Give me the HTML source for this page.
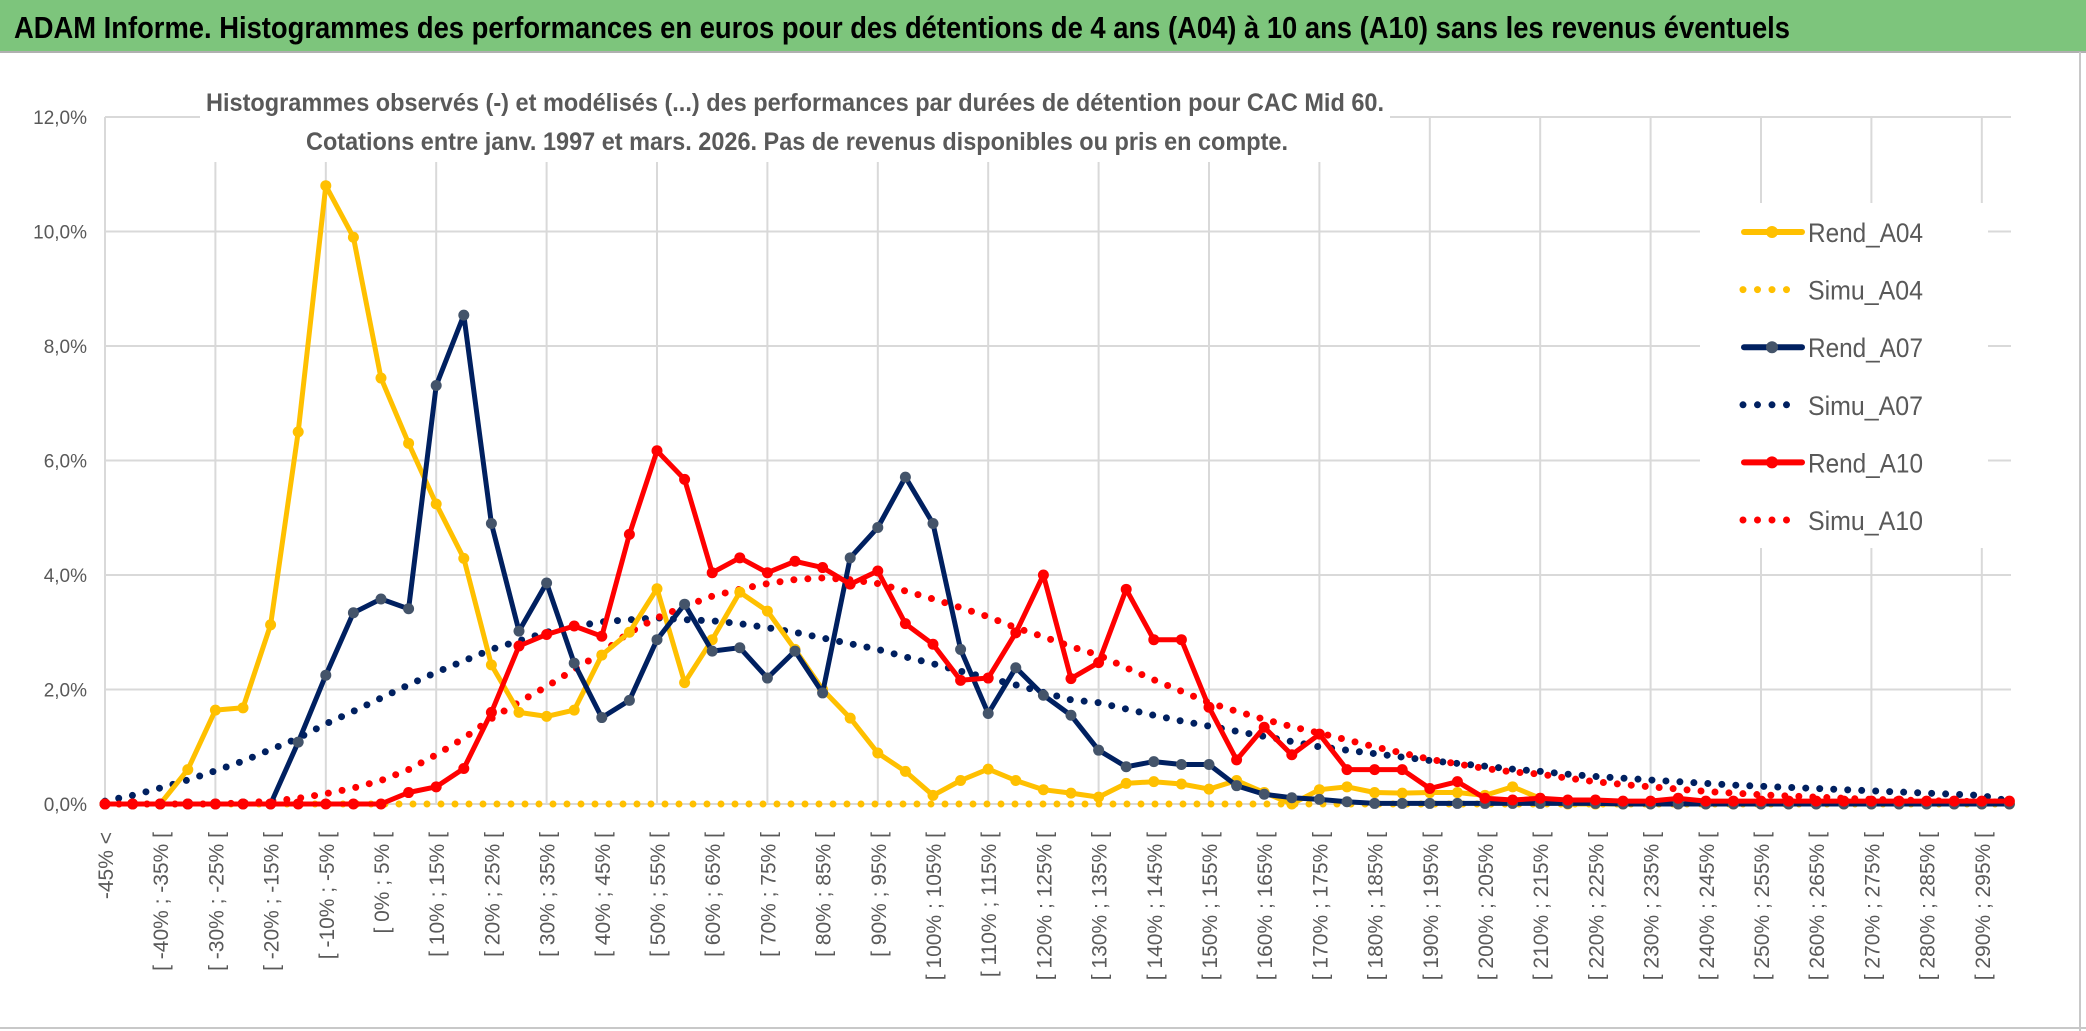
<!DOCTYPE html>
<html><head><meta charset="utf-8"><style>
html,body{margin:0;padding:0;background:#fff;}
svg{display:block;font-family:"Liberation Sans",sans-serif;}
</style></head><body>
<svg id="chart" width="2086" height="1031" viewBox="0 0 2086 1031">
<rect x="0" y="0" width="2086" height="1031" fill="#fff"/>
<rect x="0" y="0" width="2086" height="51" fill="#7dc57c"/>
<line x1="0" y1="52" x2="2086" y2="52" fill="none" stroke="#b0b0b0" stroke-width="2"/>
<text x="14" y="38" font-size="31" font-weight="bold" fill="#000" textLength="1776" lengthAdjust="spacingAndGlyphs">ADAM Informe. Histogrammes des performances en euros pour des détentions de 4 ans (A04) à 10 ans (A10) sans les revenus éventuels</text>
<line x1="2080" y1="52" x2="2080" y2="1031" stroke="#c8c8c8" stroke-width="2"/>
<line x1="0" y1="1028" x2="2086" y2="1028" stroke="#c8c8c8" stroke-width="2"/>
<g id="grid"></g>
<g id="yaxis"></g>
<g id="xaxis"></g>
<rect x="200" y="80" width="1190" height="82" fill="#fff"/>
<text x="206" y="111" font-size="25" font-weight="bold" fill="#595959" textLength="1178" lengthAdjust="spacingAndGlyphs">Histogrammes observés (-) et modélisés (...) des performances par durées de détention pour CAC Mid 60.</text>
<text x="306" y="150" font-size="25" font-weight="bold" fill="#595959" textLength="982" lengthAdjust="spacingAndGlyphs">Cotations entre janv. 1997 et mars. 2026. Pas de revenus disponibles ou pris en compte.</text>
<g id="series"></g>
<rect x="1700" y="203" width="288" height="345" fill="#fff"/>
<g id="legend"></g>
</svg>
<script>
const yTicks = [0,2,4,6,8,10,12];
const yTickLabels = ["0,0%","2,0%","4,0%","6,0%","8,0%","10,0%","12,0%"];
const nCats = 70;
const rendA04 = [0,0,0,0.6,1.64,1.68,3.13,6.5,10.8,9.9,7.44,6.3,5.24,4.29,2.43,1.6,1.53,1.64,2.6,3.0,3.76,2.12,2.87,3.7,3.37,2.7,2.0,1.5,0.89,0.57,0.15,0.41,0.61,0.41,0.25,0.19,0.12,0.36,0.39,0.35,0.26,0.41,0.2,0.0,0.25,0.3,0.2,0.19,0.2,0.2,0.15,0.3,0.1,0,0,0,0,0,0,0,0,0,0,0,0,0,0,0,0,0];
const simuA04 = Array(70).fill(0);
const rendA07 = [0,0,0,0,0,0,0,1.08,2.25,3.34,3.58,3.41,7.31,8.54,4.9,3.02,3.86,2.46,1.51,1.81,2.87,3.49,2.67,2.73,2.2,2.67,1.94,4.3,4.83,5.71,4.9,2.7,1.58,2.38,1.9,1.55,0.94,0.65,0.74,0.69,0.69,0.32,0.17,0.11,0.08,0.04,0.01,0.01,0.01,0.01,0.01,0.01,0.01,0.01,0.01,0,0,0,0,0,0,0,0,0,0,0,0,0,0,0];
const simuA07 = [0.05,0.15,0.28,0.42,0.58,0.75,0.95,1.15,1.4,1.62,1.85,2.08,2.3,2.5,2.7,2.85,3.0,3.1,3.18,3.22,3.25,3.22,3.2,3.15,3.08,3.0,2.9,2.8,2.7,2.57,2.45,2.32,2.2,2.08,1.95,1.82,1.77,1.66,1.55,1.45,1.36,1.27,1.18,1.09,1.0,0.94,0.88,0.82,0.76,0.71,0.66,0.61,0.57,0.52,0.48,0.45,0.42,0.39,0.36,0.33,0.31,0.29,0.27,0.25,0.23,0.21,0.19,0.17,0.15,0.05];
const rendA10 = [0,0,0,0,0,0,0,0,0,0,0,0.2,0.3,0.62,1.6,2.76,2.96,3.11,2.93,4.71,6.17,5.67,4.04,4.3,4.04,4.24,4.13,3.84,4.07,3.15,2.79,2.16,2.2,2.99,4.0,2.19,2.47,3.75,2.87,2.87,1.69,0.77,1.34,0.86,1.22,0.6,0.6,0.6,0.27,0.39,0.1,0.07,0.1,0.07,0.07,0.05,0.05,0.1,0.05,0.05,0.05,0.05,0.05,0.05,0.05,0.05,0.05,0.05,0.05,0.05];
const simuA10 = [0,0,0,0,0,0.02,0.05,0.1,0.18,0.28,0.41,0.6,0.86,1.15,1.49,1.78,2.05,2.35,2.64,3.0,3.25,3.45,3.63,3.75,3.85,3.92,3.95,3.92,3.85,3.72,3.58,3.43,3.27,3.08,2.92,2.75,2.6,2.38,2.17,1.97,1.77,1.62,1.48,1.35,1.24,1.12,1.0,0.89,0.78,0.7,0.62,0.56,0.52,0.45,0.39,0.34,0.3,0.26,0.22,0.19,0.16,0.14,0.12,0.1,0.08,0.07,0.06,0.05,0.04,0.03];
const xLabels = ["-45% <","[ -40% ; -35% [","[ -30% ; -25% [","[ -20% ; -15% [","[ -10% ; -5% [","[ 0% ; 5% [","[ 10% ; 15% [","[ 20% ; 25% [","[ 30% ; 35% [","[ 40% ; 45% [","[ 50% ; 55% [","[ 60% ; 65% [","[ 70% ; 75% [","[ 80% ; 85% [","[ 90% ; 95% [","[ 100% ; 105% [","[ 110% ; 115% [","[ 120% ; 125% [","[ 130% ; 135% [","[ 140% ; 145% [","[ 150% ; 155% [","[ 160% ; 165% [","[ 170% ; 175% [","[ 180% ; 185% [","[ 190% ; 195% [","[ 200% ; 205% [","[ 210% ; 215% [","[ 220% ; 225% [","[ 230% ; 235% [","[ 240% ; 245% [","[ 250% ; 255% [","[ 260% ; 265% [","[ 270% ; 275% [","[ 280% ; 285% [","[ 290% ; 295% ["];
const seriesNames = ["Rend_A04","Simu_A04","Rend_A07","Simu_A07","Rend_A10","Simu_A10"];

const NS="http://www.w3.org/2000/svg";
const X0=105, DX=27.6, Y0=804, YPX=57.25;
function xs(i){return X0+DX*i;}
function ys(v){return Y0-v*YPX;}
function mk(tag,attrs,parent){const e=document.createElementNS(NS,tag);for(const k in attrs)e.setAttribute(k,attrs[k]);parent.appendChild(e);return e;}

const grid=document.getElementById('grid');
yTicks.forEach((t,k)=>{
  const l=mk('line',{x1:xs(0),x2:2011,y1:ys(t),y2:ys(t),stroke:'#d9d9d9','stroke-width':2},grid);
  
  
});
for(let i=0;i<=68;i+=4){
  const l=mk('line',{x1:xs(i),x2:xs(i),y1:ys(12),y2:ys(0),stroke:'#d9d9d9','stroke-width':2},grid);
  
  
}
const yaxis=document.getElementById('yaxis');
yTicks.forEach((t,k)=>{
  const tx=mk('text',{x:87,y:ys(t)+7,'text-anchor':'end','font-size':19,fill:'#595959'},yaxis);
  tx.textContent=yTickLabels[k];
  
  
});
const xaxis=document.getElementById('xaxis');
xLabels.forEach((lab,k)=>{
  const x=xs(k*2)+8;
  const tx=mk('text',{x:0,y:0,transform:`translate(${x},832) rotate(-90)`,'text-anchor':'end','font-size':21,fill:'#595959'},xaxis);
  tx.textContent=lab;
  
  
});

const sg=document.getElementById('series');
function pathOf(arr){return arr.map((v,i)=>(i?'L':'M')+xs(i).toFixed(1)+' '+ys(v).toFixed(1)).join(' ');}
function dotted(arr,color,name){
  const p=mk('path',{d:pathOf(arr),fill:'none',stroke:color,'stroke-width':7,'stroke-linecap':'round','stroke-dasharray':'0 14'},sg);
  
  
}
function solid(arr,color,mcolor,name){
  const p=mk('path',{d:pathOf(arr),fill:'none',stroke:color,'stroke-width':5,'stroke-linejoin':'round'},sg);
  
  
  arr.forEach((v,i)=>{
    const c=mk('circle',{cx:xs(i),cy:ys(v),r:5.5,fill:mcolor},sg);
    
    
  });
}
dotted(simuA04,'#ffc000','simu-a04-line');
dotted(simuA07,'#002060','simu-a07-line');
dotted(simuA10,'#ff0000','simu-a10-line');
solid(rendA04,'#ffc000','#ffc000','rend-a04-line');
solid(rendA07,'#002060','#44546a','rend-a07-line');
solid(rendA10,'#ff0000','#ff0000','rend-a10-line');

const lg=document.getElementById('legend');
const lcolors=['#ffc000','#ffc000','#002060','#002060','#ff0000','#ff0000'];
const lmark=['#ffc000',null,'#44546a',null,'#ff0000',null];
seriesNames.forEach((n,k)=>{
  const y=232+57.6*k;
  const g=mk('g',{},lg);
  
  
  if(lmark[k]){
    mk('line',{x1:1744,x2:1802,y1:y,y2:y,stroke:lcolors[k],'stroke-width':6,'stroke-linecap':'round'},g);
    mk('circle',{cx:1772,cy:y,r:6,fill:lmark[k]},g);
  } else {
    mk('line',{x1:1743,x2:1800,y1:y,y2:y,stroke:lcolors[k],'stroke-width':7,'stroke-linecap':'round','stroke-dasharray':'0 14.5'},g);
  }
  const t=mk('text',{x:1808,y:y+10,'font-size':27,fill:'#595959',textLength:115,lengthAdjust:'spacingAndGlyphs'},g);
  t.textContent=n;
});
</script>
</body></html>
